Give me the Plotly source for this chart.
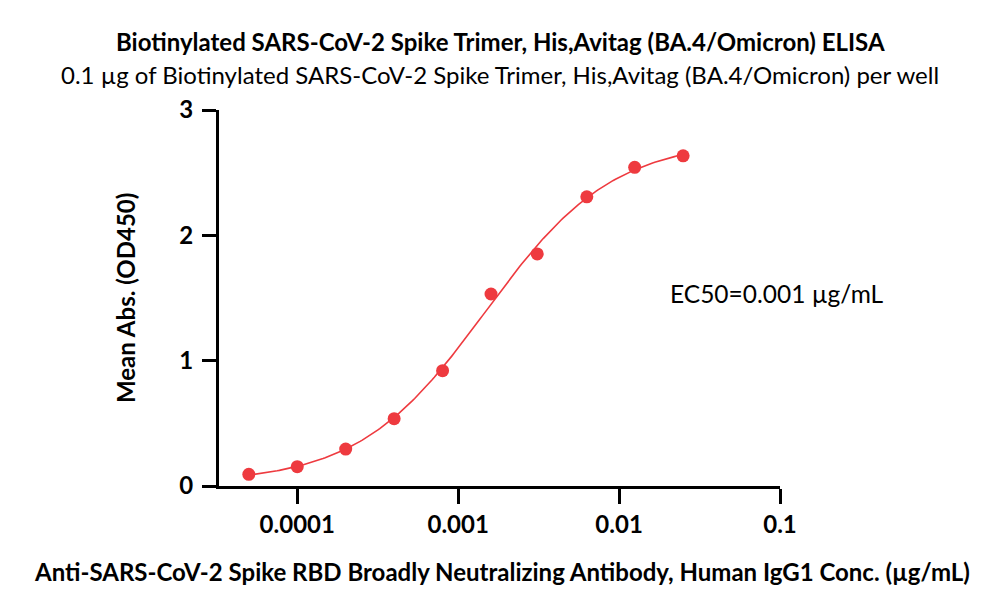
import numpy as np
import plotly.graph_objects as go

# Data
conc = [0.00005, 0.0001, 0.0002, 0.0004, 0.0008, 0.0016, 0.0031, 0.0063, 0.0125, 0.025]
absorb = [0.093, 0.154, 0.295, 0.537, 0.920, 1.532, 1.852, 2.307, 2.543, 2.634]

title_main = "Biotinylated SARS-CoV-2 Spike Trimer, His,Avitag (BA.4/Omicron) ELISA"
title_sub = "0.1 µg of Biotinylated SARS-CoV-2 Spike Trimer, His,Avitag (BA.4/Omicron) per well"
x_title = "Anti-SARS-CoV-2 Spike RBD Broadly Neutralizing Antibody, Human IgG1 Conc. (µg/mL)"
y_title = "Mean Abs. (OD450)"
ec50_text = "EC50=0.001 µg/mL"
x_tickvals = [0.0001, 0.001, 0.01, 0.1]
x_ticktext = ["0.0001", "0.001", "0.01", "0.1"]
y_tickvals = [0, 1, 2, 3]

# 4PL fit: grid over log EC50 and hill slope, linear LS for bottom/top
lx = np.log10(np.array(conc))
yv = np.array(absorb)
best = None
for le in np.linspace(-3.5, -2.0, 301):
    for h in np.linspace(0.5, 2.0, 151):
        f = 1.0 / (1.0 + 10 ** ((le - lx) * h))
        A = np.vstack([1 - f, f]).T
        coef, *_ = np.linalg.lstsq(A, yv, rcond=None)
        r = np.sum((A @ coef - yv) ** 2)
        if best is None or r < best[0]:
            best = (r, le, h, coef)
_, le, h, (bot, top) = best
cx = np.linspace(lx.min(), lx.max(), 200)
cy = bot + (top - bot) / (1.0 + 10 ** ((le - cx) * h))

red = "#EE3A3F"
FONT = "Lato"
OFF = 8  # page body margin
L, R, T, B = 219, 780, 110, 486  # plot area in page pixels

fig = go.Figure()
fig.add_trace(go.Scatter(x=10 ** cx, y=cy, mode="lines",
                         line=dict(color=red, width=1.6), hoverinfo="skip"))
fig.add_trace(go.Scatter(x=conc, y=absorb, mode="markers",
                         marker=dict(color=red, size=13)))

W, H = 1000 - OFF, 614 - OFF
fig.update_layout(
    width=W, height=H, showlegend=False,
    paper_bgcolor="white", plot_bgcolor="white",
    margin=dict(l=L - OFF, r=W - (R - OFF), t=T - OFF, b=H - (B - OFF)),
    font=dict(family=FONT, color="black"),
)
fig.update_xaxes(type="log", range=[np.log10(0.0001) - (297.3 - L) / 161, -1],
                 tickvals=x_tickvals, ticktext=x_ticktext,
                 showline=True, linecolor="black", linewidth=3,
                 ticks="outside", ticklen=15, tickwidth=3, tickcolor="black",
                 showgrid=False, zeroline=False,
                 tickfont=dict(family=FONT, size=24, color="black", weight="bold"))
fig.update_yaxes(range=[0, 3], tickvals=y_tickvals,
                 showline=True, linecolor="black", linewidth=3,
                 ticks="outside", ticklen=14, tickwidth=3, tickcolor="black",
                 showgrid=False, zeroline=False, ticklabelstandoff=4,
                 tickfont=dict(family=FONT, size=24, color="black", weight="bold"))

def ann(text, x, y, size, bold=False, angle=0, anchor="center"):
    fig.add_annotation(text=text, xref="paper", yref="paper",
                       x=(x - L) / (R - L), y=(B - y) / (B - T),
                       xanchor=anchor, yanchor="middle", showarrow=False, textangle=angle,
                       font=dict(family=FONT, size=size, color="black",
                                 weight="bold" if bold else "normal"))

ann(title_main, 500, 42, 24, bold=True)
ann(title_sub, 500, 74, 24)
ann(x_title, 502, 571, 24, bold=True)
ann(y_title, 125, 298, 24, bold=True, angle=-90)
ann(ec50_text, 668, 293, 24.5, anchor="left")

fig.write_html("out.html")
